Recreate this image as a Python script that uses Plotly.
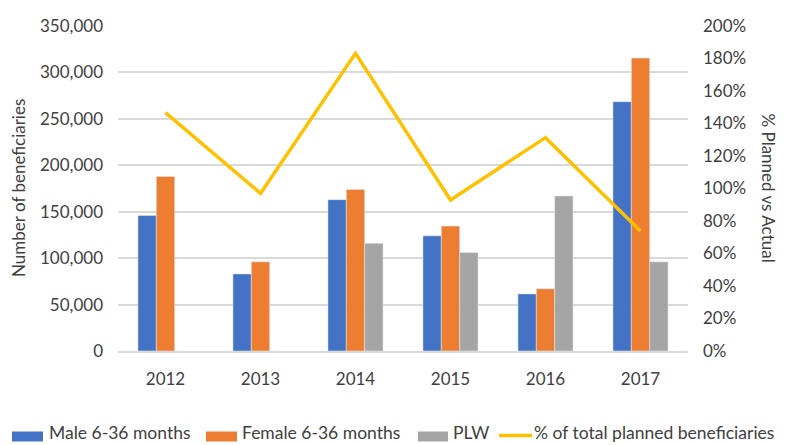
import plotly.graph_objects as go

years = ["2012", "2013", "2014", "2015", "2016", "2017"]
male = [146000, 83000, 163000, 124000, 61500, 268500]
female = [188000, 96000, 174000, 134500, 67000, 315500]
plw = [None, None, 116000, 106000, 167000, 96000]
pct_planned = [1.467, 0.97, 1.832, 0.929, 1.313, 0.738]

y_ticks = [0, 50000, 100000, 150000, 200000, 250000, 300000, 350000]
y2_ticks = [0, 0.2, 0.4, 0.6, 0.8, 1.0, 1.2, 1.4, 1.6, 1.8, 2.0]

series_names = ["Male 6-36 months", "Female 6-36 months", "PLW", "% of total planned beneficiaries"]
colors = ["#4472C4", "#ED7D31", "#A5A5A5", "#FFC000"]

FONT = "Lato, 'Open Sans', sans-serif"
TXT = "#404040"
W, H = 793, 445
L, R, T, B = 118, 105, 26, 94
PW, PH = W - L - R, H - T - B


def px(x):
    return (x - L) / PW


def py(y):
    return (H - B - y) / PH


fig = go.Figure()
for vals, nm, col in zip([male, female, plw], series_names[:3], colors[:3]):
    fig.add_trace(go.Bar(x=years, y=vals, name=nm, marker_color=col, showlegend=False))
fig.add_trace(go.Scatter(x=years, y=pct_planned, name=series_names[3], mode="lines",
                         line=dict(color=colors[3], width=3.5), yaxis="y2", showlegend=False))

annotations = [
    dict(text="Number of beneficiaries", textangle=-90, x=px(18.5), y=py(188.5),
         xanchor="center", yanchor="middle", size=17),
    dict(text="% Planned vs Actual", textangle=90, x=px(768.5), y=py(188),
         xanchor="center", yanchor="middle", size=17),
]
shapes = []
# manual legend (Excel style)
legend_items = [
    (0, 12, 43, 47),
    (1, 206, 237, 240),
    (2, 418, 448, 451),
    (3, 499, 532, 532),
]
for idx, x0, x1, tx in legend_items:
    if idx < 3:
        shapes.append(dict(type="rect", xref="paper", yref="paper",
                           x0=px(x0), x1=px(x1), y0=py(441.5), y1=py(431.5),
                           fillcolor=colors[idx], line=dict(width=0)))
    else:
        shapes.append(dict(type="line", xref="paper", yref="paper",
                           x0=px(x0), x1=px(x1), y0=py(435.5), y1=py(435.5),
                           line=dict(color=colors[idx], width=3.5)))
    annotations.append(dict(text=series_names[idx], x=px(tx), y=py(445),
                            xanchor="left", yanchor="bottom", size=17.5))

for a in annotations:
    sz = a.pop("size")
    a.update(xref="paper", yref="paper", showarrow=False,
             font=dict(family=FONT, size=sz, color=TXT))

fig.update_layout(
    width=W, height=H,
    margin=dict(l=L, r=R, t=T, b=B, autoexpand=False),
    paper_bgcolor="white", plot_bgcolor="white",
    font=dict(family=FONT, size=17, color=TXT),
    showlegend=False,
    barmode="group", bargap=0.42, bargroupgap=0,
    xaxis=dict(showgrid=False, showline=True, linecolor="#D9D9D9", linewidth=1.5,
               ticks="", ticklabelstandoff=12, tickfont=dict(size=17)),
    yaxis=dict(range=[0, 350000], tickvals=y_ticks, tickformat=",",
               showgrid=True, gridcolor="#D9D9D9", gridwidth=1.5, zeroline=False,
               ticks="", ticklabelstandoff=14, tickfont=dict(size=17)),
    yaxis2=dict(range=[0, 2.0], tickvals=y2_ticks, tickformat=".0%", overlaying="y",
                side="right", showgrid=False, zeroline=False, ticks="",
                ticklabelstandoff=14, tickfont=dict(size=17)),
    annotations=annotations,
    shapes=shapes,
)

fig.write_html("out.html", config={"displayModeBar": False},
               post_script="document.body.style.margin='0';document.body.style.overflow='hidden';")
